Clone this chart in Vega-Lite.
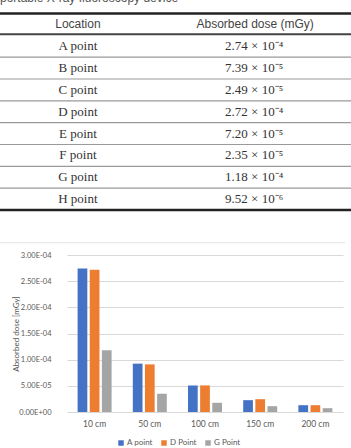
{
  "$schema": "https://vega.github.io/schema/vega-lite/v6.json",
  "autosize": {"type": "none"},
  "padding": {"left": 67, "top": 255, "right": 8, "bottom": 36},
  "width": 276,
  "height": 157,
  "background": "white",
  "config": {"view": {"stroke": null}},
  "resolve": {"scale": {"x": "independent", "y": "independent"}},
  "layer": [
    {
      "data": {"name": "bars"},
      "mark": {"type": "bar"},
      "encoding": {
        "x": {
          "field": "dist", "type": "nominal", "sort": ["10 cm", "50 cm", "100 cm", "150 cm", "200 cm"],
          "scale": {"paddingInner": 0.384, "paddingOuter": 0.192},
          "axis": {"title": null, "labelAngle": 0, "ticks": false, "domain": false, "labelFont": "Lato", "labelFontSize": 8.5, "labelColor": "#595959", "labelPadding": 7}
        },
        "xOffset": {
          "field": "loc", "type": "nominal", "sort": ["A point", "D Point", "G Point"],
          "scale": {"paddingInner": 0.2, "paddingOuter": 0}
        },
        "y": {
          "field": "dose", "type": "quantitative",
          "scale": {"domain": [0, 0.0003], "nice": false},
          "axis": {
            "title": "Absorbed dose [mGy]",
            "values": [0, 0.00005, 0.0001, 0.00015, 0.0002, 0.00025, 0.0003],
            "labelExpr": "replace(replace(format(datum.value, '.2e'), 'e-', 'E-0'), 'e+', 'E+0')",
            "ticks": false, "domain": false,
            "gridColor": "#d9d9d9", "gridWidth": 1,
            "labelFont": "Lato", "labelFontSize": 7.5, "labelColor": "#595959", "labelPadding": 16,
            "titleFont": "Lato", "titleFontSize": 8, "titleFontWeight": "normal", "titleColor": "#595959",
            "titleX": -47, "titleY": 78.5
          }
        },
        "color": {
          "field": "loc", "type": "nominal",
          "scale": {"domain": ["A point", "D Point", "G Point"], "range": ["#4472C4", "#ED7D31", "#A5A5A5"]},
          "legend": {
            "title": null, "orient": "none", "direction": "horizontal", "legendX": 50, "legendY": 184,
            "symbolType": "square", "symbolSize": 30, "symbolStrokeWidth": 0,
            "labelFont": "Lato", "labelFontSize": 8, "labelColor": "#595959", "labelOffset": 2, "columnPadding": 7
          }
        }
      }
    },
    {
      "data": {"values": [{"t": "portable X-ray fluoroscopy device"}]},
      "mark": {"type": "text", "align": "left", "baseline": "alphabetic", "font": "Liberation Sans", "fontSize": 12, "color": "#555555"},
      "encoding": {
        "x": {"datum": 0, "type": "quantitative", "scale": {"domain": [0.19088, 0.97721], "nice": false, "zero": false}, "axis": null},
        "y": {"datum": -1.03, "type": "quantitative", "scale": {"domain": [10.563, 17.755], "nice": false, "zero": false, "reverse": true}, "axis": null},
        "text": {"field": "t"}
      }
    },
    {
      "data": {"values": [{"r": -0.5}, {"r": 8.5}]},
      "mark": {"type": "rule", "color": "#222222", "strokeWidth": 2.5},
      "encoding": {
        "x": {"datum": 0, "type": "quantitative", "scale": {"domain": [0.19088, 0.97721], "nice": false, "zero": false}, "axis": null},
        "x2": {"datum": 1},
        "y": {"field": "r", "type": "quantitative", "scale": {"domain": [10.563, 17.755], "nice": false, "zero": false, "reverse": true}, "axis": null}
      }
    },
    {
      "data": {"values": [{"r": 0.45}]},
      "mark": {"type": "rule", "color": "#444444", "strokeWidth": 2},
      "encoding": {
        "x": {"datum": 0, "type": "quantitative", "scale": {"domain": [0.19088, 0.97721], "nice": false, "zero": false}, "axis": null},
        "x2": {"datum": 1},
        "y": {"field": "r", "type": "quantitative", "scale": {"domain": [10.563, 17.755], "nice": false, "zero": false, "reverse": true}, "axis": null}
      }
    },
    {
      "data": {"values": [{"r": 1.5}, {"r": 2.5}, {"r": 3.5}, {"r": 4.5}, {"r": 5.5}, {"r": 6.5}, {"r": 7.5}]},
      "mark": {"type": "rule", "color": "#9a9a9a", "strokeWidth": 1.2},
      "encoding": {
        "x": {"datum": 0, "type": "quantitative", "scale": {"domain": [0.19088, 0.97721], "nice": false, "zero": false}, "axis": null},
        "x2": {"datum": 1},
        "y": {"field": "r", "type": "quantitative", "scale": {"domain": [10.563, 17.755], "nice": false, "zero": false, "reverse": true}, "axis": null}
      }
    },
    {
      "data": {"values": [{"r": 10}]},
      "mark": {"type": "rule", "color": "#e3e3e3", "strokeWidth": 1},
      "encoding": {
        "x": {"datum": 0, "type": "quantitative", "scale": {"domain": [0.19088, 0.97721], "nice": false, "zero": false}, "axis": null},
        "x2": {"datum": 0.983},
        "y": {"field": "r", "type": "quantitative", "scale": {"domain": [10.563, 17.755], "nice": false, "zero": false, "reverse": true}, "axis": null}
      }
    },
    {
      "data": {"values": [{"h": "Location", "c": 0.222}, {"h": "Absorbed dose (mGy)", "c": 0.727}]},
      "mark": {"type": "text", "font": "Liberation Sans", "fontSize": 12, "color": "#444444", "baseline": "middle"},
      "encoding": {
        "x": {"field": "c", "type": "quantitative", "scale": {"domain": [0.19088, 0.97721], "nice": false, "zero": false}, "axis": null},
        "y": {"datum": 0, "type": "quantitative", "scale": {"domain": [10.563, 17.755], "nice": false, "zero": false, "reverse": true}, "axis": null},
        "text": {"field": "h"}
      }
    },
    {
      "data": {"name": "tbl"},
      "mark": {"type": "text", "font": "Liberation Serif", "fontSize": 13, "color": "#333333", "baseline": "middle"},
      "encoding": {
        "x": {"datum": 0.222, "type": "quantitative", "scale": {"domain": [0.19088, 0.97721], "nice": false, "zero": false}, "axis": null},
        "y": {"field": "r", "type": "quantitative", "scale": {"domain": [10.563, 17.755], "nice": false, "zero": false, "reverse": true}, "axis": null},
        "text": {"field": "loc"}
      }
    },
    {
      "data": {"name": "tbl"},
      "mark": {"type": "text", "font": "Liberation Serif", "fontSize": 13, "color": "#333333", "baseline": "middle"},
      "encoding": {
        "x": {"datum": 0.724, "type": "quantitative", "scale": {"domain": [0.19088, 0.97721], "nice": false, "zero": false}, "axis": null},
        "y": {"field": "r", "type": "quantitative", "scale": {"domain": [10.563, 17.755], "nice": false, "zero": false, "reverse": true}, "axis": null},
        "text": {"field": "dose"}
      }
    }
  ],
  "datasets": {
    "tbl": [
      {"r": 1, "loc": "A point", "dose": "2.74 × 10⁻⁴"},
      {"r": 2, "loc": "B point", "dose": "7.39 × 10⁻⁵"},
      {"r": 3, "loc": "C point", "dose": "2.49 × 10⁻⁵"},
      {"r": 4, "loc": "D point", "dose": "2.72 × 10⁻⁴"},
      {"r": 5, "loc": "E point", "dose": "7.20 × 10⁻⁵"},
      {"r": 6, "loc": "F point", "dose": "2.35 × 10⁻⁵"},
      {"r": 7, "loc": "G point", "dose": "1.18 × 10⁻⁴"},
      {"r": 8, "loc": "H point", "dose": "9.52 × 10⁻⁶"}
    ],
    "bars": [
      {"dist": "10 cm", "loc": "A point", "dose": 0.000274},
      {"dist": "10 cm", "loc": "D Point", "dose": 0.000272},
      {"dist": "10 cm", "loc": "G Point", "dose": 0.000118},
      {"dist": "50 cm", "loc": "A point", "dose": 0.0000924},
      {"dist": "50 cm", "loc": "D Point", "dose": 0.000091},
      {"dist": "50 cm", "loc": "G Point", "dose": 0.0000349},
      {"dist": "100 cm", "loc": "A point", "dose": 0.0000508},
      {"dist": "100 cm", "loc": "D Point", "dose": 0.0000508},
      {"dist": "100 cm", "loc": "G Point", "dose": 0.0000176},
      {"dist": "150 cm", "loc": "A point", "dose": 0.0000226},
      {"dist": "150 cm", "loc": "D Point", "dose": 0.0000245},
      {"dist": "150 cm", "loc": "G Point", "dose": 0.0000111},
      {"dist": "200 cm", "loc": "A point", "dose": 0.000013},
      {"dist": "200 cm", "loc": "D Point", "dose": 0.000013},
      {"dist": "200 cm", "loc": "G Point", "dose": 0.0000073}
    ]
  }
}
